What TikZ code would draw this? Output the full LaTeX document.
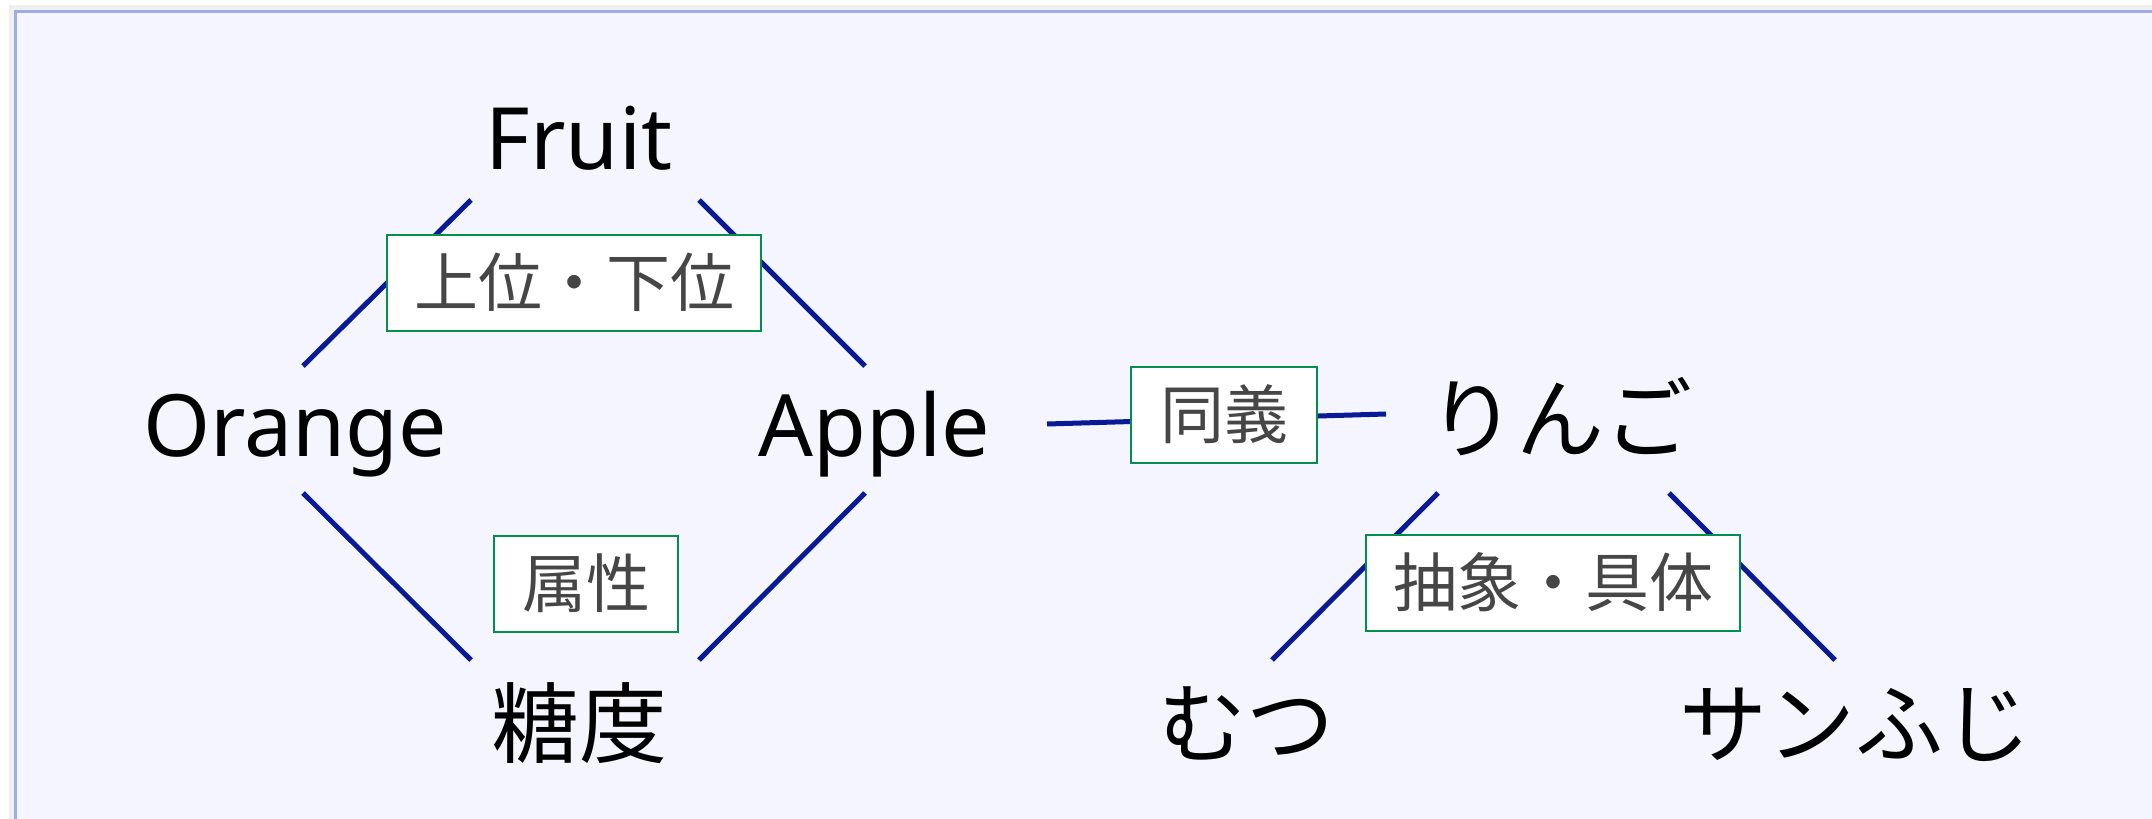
\documentclass[tikz,border=0pt]{standalone}
\usepackage{fontspec}
\setmainfont{Noto Sans}
\newfontfamily\jp{Noto Sans CJK JP}
\definecolor{panel}{RGB}{244,245,254}
\definecolor{pborder}{RGB}{160,171,234}
\definecolor{linkc}{RGB}{8,26,150}
\definecolor{lblborder}{RGB}{0,144,76}
\definecolor{lbltext}{RGB}{70,70,70}
\begin{document}
\begin{tikzpicture}[x=0.5pt,y=-0.5pt,
  word/.style={font=\fontsize{43}{48}\selectfont, inner sep=0pt, text=black, anchor=base},
  jword/.style={word, font=\jp\fontsize{44}{48}\selectfont},
  link/.style={draw=linkc, line width=2.5pt},
  lbl/.style={draw=lblborder, line width=1pt, fill=white, text=lbltext,
    font=\jp\fontsize{32}{34}\selectfont, inner sep=0pt, minimum height=48pt,
    text height=27pt, text depth=4pt}]
\useasboundingbox (0,0) rectangle (2152,819);
\fill[white] (0,0) rectangle (2152,819);
\fill[black!6] (9,5) rectangle (2160,830);
\fill[panel] (15,11) rectangle (2160,830);
\draw[pborder, line width=1.5pt] (2160,11) -- (15,11) -- (15,830);
% words
\node[word]  (fruit)  at (579,169) {Fruit};
\node[word]  (orange) at (295,456) {Orange};
\node[word]  (apple)  at (874,456) {Apple};
\node[jword] (sugar)  at (579,756) {糖度};
\node[jword] (ringo)  at (1560,451) {りんご};
\node[jword] (mutsu)  at (1246,756) {むつ};
\node[jword] (fuji)   at (1855,756) {サンふじ};
% links
\draw[link] ([shift={(-108,31)}]fruit.base) -- ([shift={(8,-90)}]orange.base);
\draw[link] ([shift={(120,31)}]fruit.base) -- ([shift={(-9,-90)}]apple.base);
\draw[link] ([shift={(8,37)}]orange.base) -- ([shift={(-108,-96)}]sugar.base);
\draw[link] ([shift={(-9,37)}]apple.base) -- ([shift={(120,-96)}]sugar.base);
\draw[link] ([shift={(173,-32)}]apple.base) -- ([shift={(-174,-37)}]ringo.base);
\draw[link] ([shift={(-122,42)}]ringo.base) -- ([shift={(26,-96)}]mutsu.base);
\draw[link] ([shift={(109,42)}]ringo.base) -- ([shift={(-20,-96)}]fuji.base);
% labels
\node[lbl, minimum width=187pt] (l1) at (574,283) {上位・下位};
\node[lbl, minimum width=92pt]  (l2) at (586,584) {属性};
\node[lbl, minimum width=93pt]  (l3) at (1224,415) {同義};
\node[lbl, minimum width=187pt] (l4) at (1553,583) {抽象・具体};
\end{tikzpicture}
\end{document}
